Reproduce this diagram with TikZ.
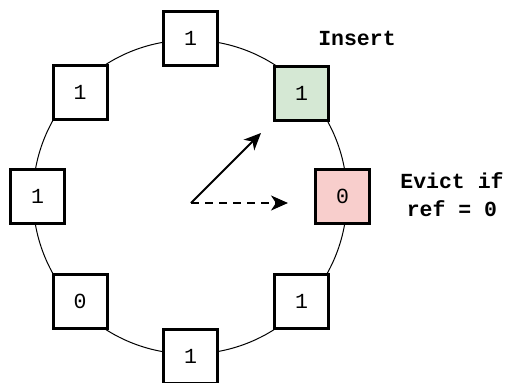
\documentclass[tikz,border=0pt]{standalone}
\usepackage{fontspec}
\setmonofont{Liberation Mono}
\usetikzlibrary{arrows.meta}
\definecolor{insertfill}{HTML}{D5E8D4}
\definecolor{evictfill}{HTML}{F8CECC}
\tikzset{
  slot/.style={draw=black, line width=3pt, fill=white, minimum size=54pt,
    inner sep=0pt, font=\ttfamily\fontsize{21.5}{24}\selectfont},
  note/.style={font=\ttfamily\bfseries\fontsize{21.5}{28}\selectfont, align=center},
  hand/.style={line width=2pt, -{Stealth[length=17pt,width=15pt,inset=5pt]}},
}
\begin{document}
\begin{tikzpicture}[x=1pt,y=-1pt]
  \useasboundingbox (0,0) rectangle (507,383);
  % clock face
  \draw[line width=1pt] (190,197) circle[radius=157];
  % buffer slots with reference bits
  \node[slot] (s0) at (190.5,38) {1};
  \node[slot, fill=insertfill] (s1) at (301.5,93.5) {1};
  \node[slot, fill=evictfill] (s2) at (342.5,196.5) {0};
  \node[slot] (s3) at (301.5,301.5) {1};
  \node[slot] (s4) at (190.5,356) {1};
  \node[slot] (s5) at (80,301.5) {0};
  \node[slot] (s6) at (37.5,196) {1};
  \node[slot] (s7) at (80,92.5) {1};
  % labels
  \node[note] (ins) at (357,38) {Insert};
  \node[note] (ev) at (452,195) {Evict if\\ref = 0};
  % clock hands
  \coordinate (hub) at (191,203);
  \coordinate (tipA) at (261,133);
  \coordinate (tipB) at (288,203);
  \draw[hand] (hub) -- (tipA);
  \draw[hand, dash pattern=on 8pt off 6pt] (hub) -- (tipB);
\end{tikzpicture}
\end{document}
